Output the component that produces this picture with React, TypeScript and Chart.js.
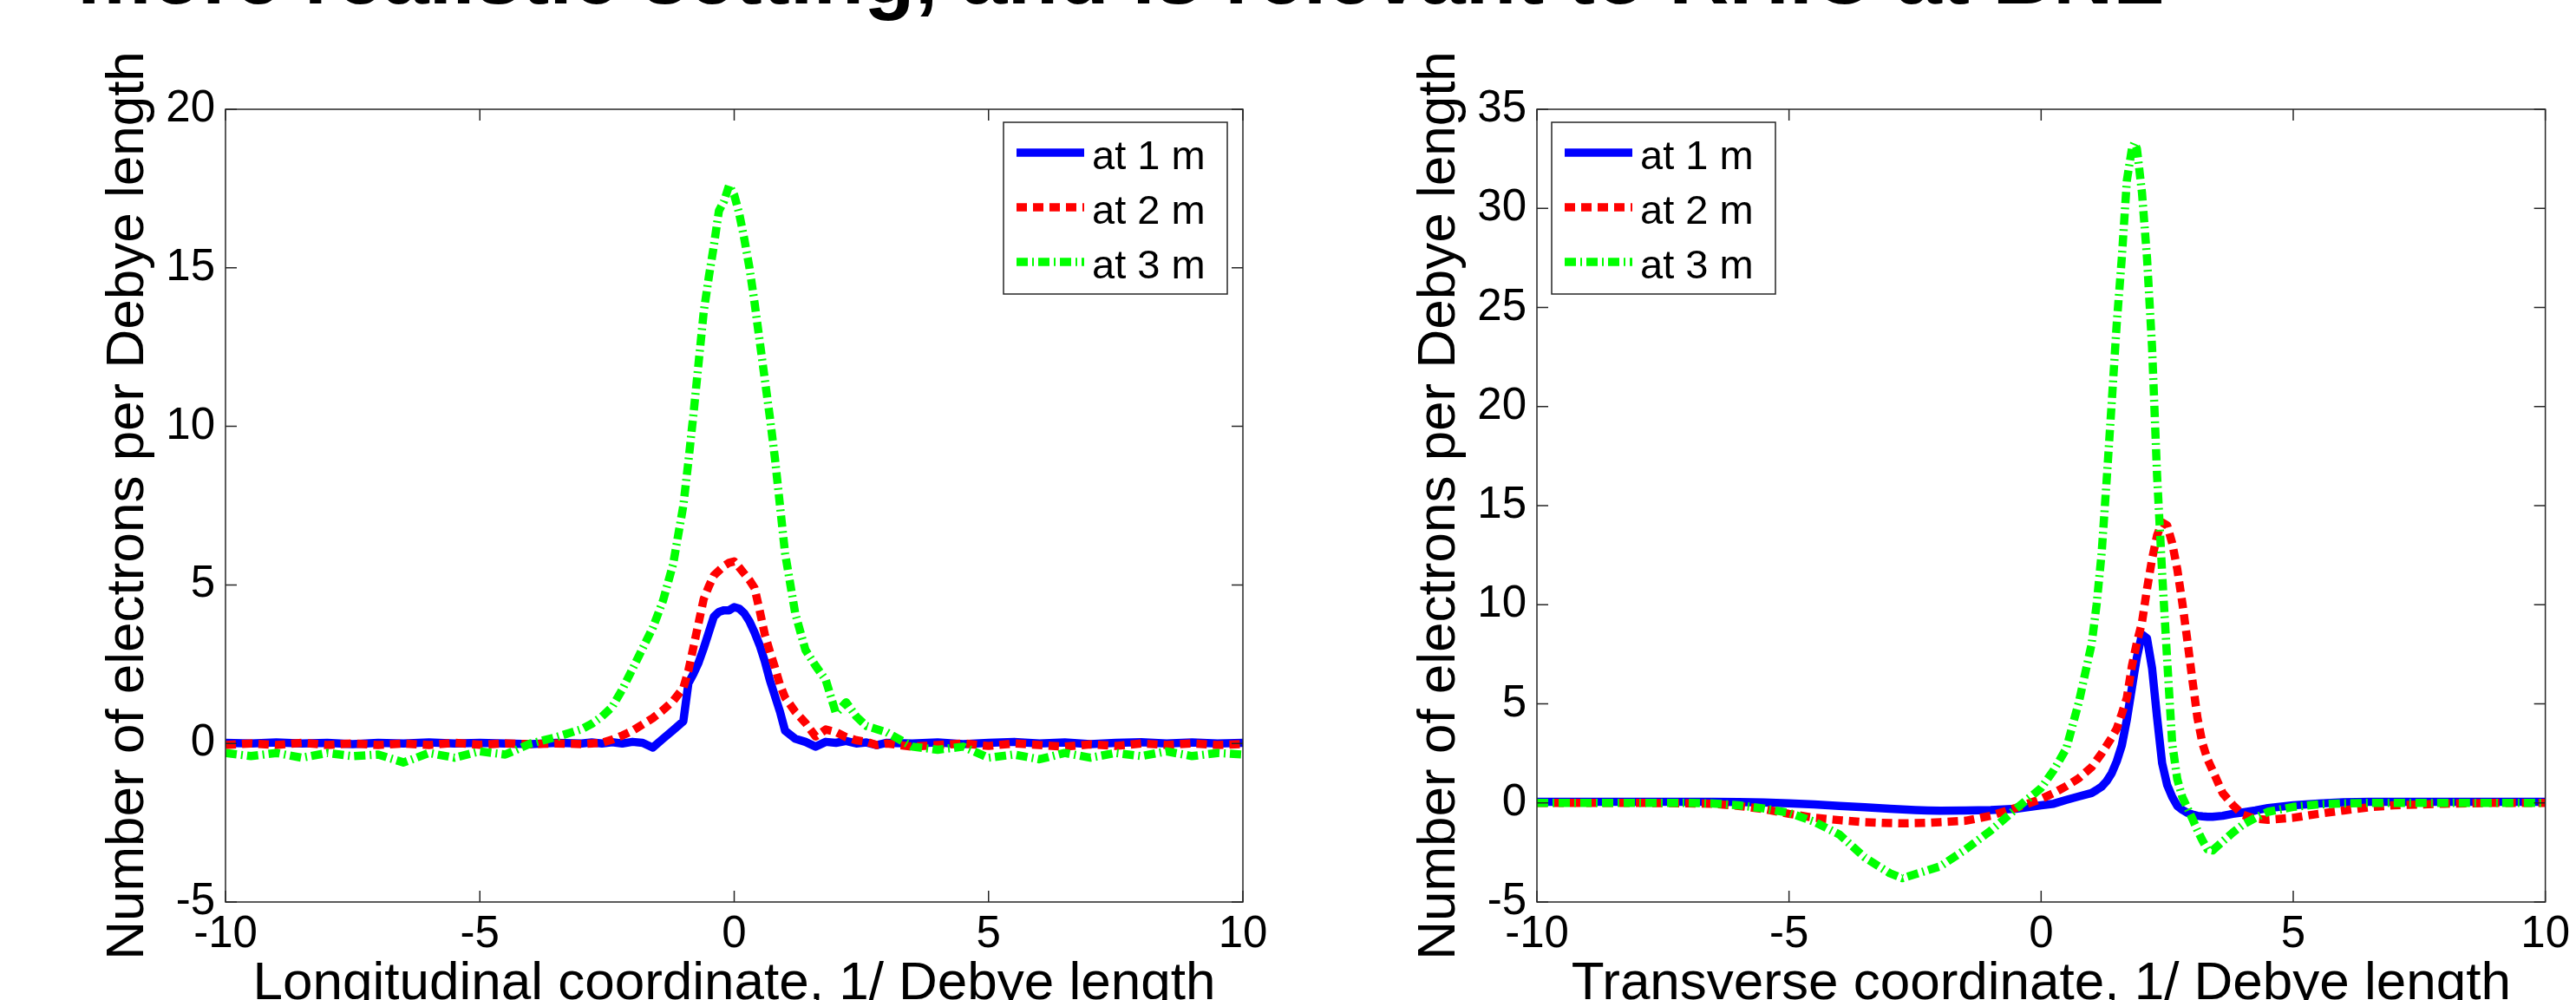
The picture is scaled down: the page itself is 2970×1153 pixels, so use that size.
import React, { useEffect, useRef } from "react";
import { Chart, registerables } from "chart.js";

Chart.register(...registerables);

// ---------------- data ----------------
const PAGE_TITLE = "more realistic setting, and is relevant to RHIC at BNL";
const SERIES_LABELS = ["at 1 m", "at 2 m", "at 3 m"];
const Y_TITLE = "Number of electrons per Debye length";
const LEFT_X_TITLE = "Longitudinal coordinate, 1/ Debye length";
const RIGHT_X_TITLE = "Transverse coordinate, 1/ Debye length";

const X_MIN = -10;
const X_MAX = 10;
const TICK_STEP = 5;
const LEFT_Y_MIN = -5;
const LEFT_Y_MAX = 20;
const RIGHT_Y_MIN = -5;
const RIGHT_Y_MAX = 35;

const LEFT_X = [
  -10, -9.5, -9, -8.5, -8, -7.5, -7, -6.5, -6, -5.5, -5, -4.5, -4, -3.5, -3,
  -2.8, -2.6, -2.4, -2.2, -2, -1.8, -1.6, -1.4, -1.2, -1,
  -0.9, -0.8, -0.7, -0.6, -0.5, -0.4, -0.3, -0.2, -0.1, 0, 0.1, 0.2, 0.3, 0.4, 0.5, 0.6, 0.7, 0.8, 0.9,
  1, 1.2, 1.4, 1.6, 1.8, 2, 2.2, 2.4, 2.6, 2.8, 3,
  3.5, 4, 4.5, 5, 5.5, 6, 6.5, 7, 7.5, 8, 8.5, 9, 9.5, 10,
];
const LEFT_1M = [
  0.02, 0.0, 0.03, 0.0, 0.02, -0.02, 0.02, 0.0, 0.03, 0.0, 0.02, 0.0, -0.02, 0.02, 0.0,
  0.03, 0.0, 0.04, 0.0, 0.05, 0.02, -0.13, 0.15, 0.42, 0.7,
  1.9, 2.2, 2.55, 3.0, 3.5, 4.0, 4.15, 4.2, 4.2, 4.3, 4.25, 4.1, 3.85, 3.5, 3.1, 2.6, 2.0, 1.5, 1.0,
  0.4, 0.15, 0.05, -0.1, 0.05, 0.02, 0.08, 0.0, 0.03, -0.05, 0.02,
  0.0, 0.03, -0.02, 0.02, 0.05, 0.0, 0.03, -0.02, 0.02, 0.04, 0.0, 0.03, 0.0, 0.02,
];
const LEFT_2M = [
  -0.05, 0.0, -0.05, 0.02, -0.05, 0.0, -0.05, 0.0, -0.05, 0.02, -0.04, 0.0, -0.02, 0.0, -0.02,
  0.0, 0.02, 0.12, 0.25, 0.4, 0.6, 0.8, 1.05, 1.34, 1.75,
  2.3, 3.05, 3.8, 4.55, 4.95, 5.3, 5.45, 5.6, 5.7, 5.74, 5.55, 5.35, 5.15, 4.9, 4.2, 3.45, 2.9, 2.4, 1.85,
  1.45, 1.0, 0.65, 0.22, 0.44, 0.36, 0.2, 0.1, 0.05, -0.05, 0.0,
  -0.1, -0.05, 0.0, -0.08, 0.0, -0.05, -0.1, -0.03, -0.08, 0.0, -0.05, 0.0, -0.05, -0.02,
];
const LEFT_3M = [
  -0.3, -0.4, -0.3, -0.45, -0.3, -0.4, -0.35, -0.6, -0.3, -0.45, -0.25, -0.35, 0.0, 0.2, 0.45,
  0.62, 0.85, 1.15, 1.7, 2.35, 3.0, 3.65, 4.5, 5.66, 7.5,
  8.9, 10.4, 12.0, 13.6, 14.7, 15.7, 16.8, 17.1, 17.6, 17.3, 16.7, 15.9, 15.0, 13.9, 12.7, 11.5, 10.3, 9.0, 7.5,
  6.0, 4.1, 2.95, 2.45, 2.0, 0.95, 1.3, 0.85, 0.55, 0.45, 0.35,
  -0.1, -0.2, -0.1, -0.45, -0.35, -0.5, -0.3, -0.45, -0.3, -0.4, -0.25, -0.4, -0.3, -0.35,
];

const RIGHT_X = [
  -10, -9, -8, -7, -6.5, -6, -5.5, -5, -4.5, -4,
  -3.5, -3, -2.75, -2.5, -2.25, -2,
  -1.5, -1, -0.5, 0,
  0.25, 0.5, 0.75, 1,
  1.1, 1.2, 1.3, 1.4, 1.5, 1.6, 1.7, 1.8,
  1.85, 1.9,
  2, 2.1, 2.2, 2.3, 2.4, 2.5, 2.6, 2.7, 2.8, 2.9, 3, 3.1, 3.2, 3.3, 3.4,
  3.6, 3.8, 4,
  4.25, 4.5, 5,
  5.5, 6, 6.5, 7,
  8, 9, 10,
];
const RIGHT_1M = [
  0.05, 0.05, 0.05, 0.05, 0.05, 0.04, 0.02, -0.02, -0.08, -0.15,
  -0.22, -0.3, -0.33, -0.36, -0.38, -0.39,
  -0.38, -0.36, -0.3, -0.12,
  -0.04, 0.15, 0.33, 0.5,
  0.65, 0.82, 1.1, 1.5, 2.1, 2.9, 4.2, 5.8,
  6.6, 7.35,
  8.5, 8.3, 6.8, 4.3, 2.0, 0.9, 0.3, -0.15, -0.35, -0.5, -0.58, -0.65, -0.68, -0.7, -0.7,
  -0.65, -0.55, -0.48,
  -0.38, -0.26, -0.12,
  -0.03, 0.03, 0.06, 0.06,
  0.06, 0.06, 0.06,
];
const RIGHT_2M = [
  0, 0, 0, -0.02, -0.05, -0.15, -0.31, -0.55, -0.75, -0.87,
  -0.97, -1.02, -1.03, -1.02, -1.0, -0.97,
  -0.9, -0.65, -0.25, 0.2,
  0.5, 0.85, 1.25, 1.8,
  2.15, 2.5, 2.9, 3.3, 3.75, 4.5, 5.3, 6.9,
  7.5, 8.1,
  9.1, 10.8, 12.3, 13.5, 14.15, 14.0, 13.1, 11.8, 10.1, 8.2, 6.2, 4.3, 3.0, 2.2, 1.65,
  0.5, -0.1, -0.6,
  -0.8, -0.85, -0.75,
  -0.55, -0.38, -0.22, -0.12,
  -0.04, 0, 0,
];
const RIGHT_3M = [
  0, 0, 0, 0, -0.03, -0.12, -0.28, -0.5, -0.95, -1.6,
  -2.75, -3.55, -3.8, -3.6, -3.4, -3.2,
  -2.35, -1.4, -0.3, 0.75,
  1.65, 2.75, 5.1, 8.0,
  10.0, 12.6, 16.3, 20.2, 24.2, 27.5, 31.4, 33.0,
  33.3, 33.0,
  30.8, 27.5, 23.0, 16.5, 11.6, 7.2, 3.0, 1.2, 0.3, -0.25, -0.8, -1.38, -1.9, -2.35, -2.4,
  -1.95, -1.5, -1.1,
  -0.75, -0.45, -0.2,
  -0.08, -0.03, 0, 0,
  0, 0, 0,
];

// ---------------- styles ----------------
const FONT = "'Liberation Sans', Arial, Helvetica, sans-serif";
const COLORS = ["#0000ff", "#ff0000", "#00ff00"];
const DASHES: number[][] = [[], [12, 7], [13, 5, 2, 5]];
const LINE_W = 9.5;
const AXIS_COLOR = "#262626";

function framePlugin(corner: "ne" | "nw") {
  return {
    id: "matlabFrame",
    afterDraw(chart: any) {
      const ctx: CanvasRenderingContext2D = chart.ctx;
      const a = chart.chartArea;
      const xs = chart.scales.x;
      const ys = chart.scales.y;
      ctx.save();
      ctx.strokeStyle = AXIS_COLOR;
      ctx.lineWidth = 1.5;
      ctx.setLineDash([]);
      ctx.strokeRect(a.left, a.top, a.right - a.left, a.bottom - a.top);
      const T = 13;
      ctx.beginPath();
      xs.ticks.forEach((t: any) => {
        const p = xs.getPixelForValue(t.value);
        ctx.moveTo(p, a.bottom);
        ctx.lineTo(p, a.bottom - T);
        ctx.moveTo(p, a.top);
        ctx.lineTo(p, a.top + T);
      });
      ys.ticks.forEach((t: any) => {
        const p = ys.getPixelForValue(t.value);
        ctx.moveTo(a.left, p);
        ctx.lineTo(a.left + T, p);
        ctx.moveTo(a.right, p);
        ctx.lineTo(a.right - T, p);
      });
      ctx.stroke();

      // legend box
      const W = 258;
      const H = 198;
      const bx = corner === "ne" ? a.right - 18 - W : a.left + 17;
      const by = a.top + 15;
      ctx.fillStyle = "#ffffff";
      ctx.fillRect(bx, by, W, H);
      ctx.strokeStyle = AXIS_COLOR;
      ctx.lineWidth = 1.5;
      ctx.strokeRect(bx, by, W, H);
      chart.data.datasets.forEach((ds: any, i: number) => {
        const ly = by + 35 + 63 * i;
        ctx.save();
        ctx.strokeStyle = ds.borderColor;
        ctx.lineWidth = ds.borderWidth;
        ctx.lineCap = "butt";
        ctx.setLineDash(ds.borderDash || []);
        ctx.beginPath();
        ctx.moveTo(bx + 15, ly);
        ctx.lineTo(bx + 93, ly);
        ctx.stroke();
        ctx.restore();
        ctx.fillStyle = "#000000";
        ctx.font = `47px ${FONT}`;
        ctx.textAlign = "left";
        ctx.textBaseline = "alphabetic";
        ctx.fillText(ds.label, bx + 102, by + 54 + 63 * i);
      });
      ctx.restore();
    },
  };
}

function buildConfig(
  xs: number[],
  series: number[][],
  yMin: number,
  yMax: number,
  xTitle: string,
  padLeft: number,
  padRight: number,
  corner: "ne" | "nw"
): any {
  const orders = [2, 1, 0];
  return {
    type: "line",
    data: {
      datasets: series.map((ys, i) => ({
        label: SERIES_LABELS[i],
        data: xs.map((x, k) => ({ x, y: ys[k] })),
        borderColor: COLORS[i],
        backgroundColor: COLORS[i],
        borderWidth: LINE_W,
        borderDash: DASHES[i],
        borderCapStyle: "butt",
        borderJoinStyle: "round",
        pointRadius: 0,
        tension: 0,
        fill: false,
        order: orders[i],
      })),
    },
    options: {
      animation: false,
      responsive: true,
      maintainAspectRatio: false,
      layout: { padding: { left: padLeft, top: 126, right: padRight, bottom: 0 } },
      plugins: { legend: { display: false }, tooltip: { enabled: false }, title: { display: false } },
      scales: {
        x: {
          type: "linear",
          min: X_MIN,
          max: X_MAX,
          ticks: {
            stepSize: TICK_STEP,
            padding: 7,
            color: "#000",
            autoSkip: false,
            maxRotation: 0,
            font: { size: 51, family: FONT },
          },
          grid: { display: false, drawTicks: false },
          border: { display: false },
          title: {
            display: true,
            text: xTitle,
            color: "#000",
            font: { size: 62, family: FONT },
            padding: { top: 4, bottom: 28 },
          },
          afterFit: (s: any) => {
            s.height = 160;
          },
        },
        y: {
          type: "linear",
          min: yMin,
          max: yMax,
          ticks: {
            stepSize: TICK_STEP,
            padding: 12,
            color: "#000",
            font: { size: 51, family: FONT },
          },
          grid: { display: false, drawTicks: false },
          border: { display: false },
          title: {
            display: true,
            text: Y_TITLE,
            color: "#000",
            font: { size: 62, family: FONT },
            padding: { top: 4, bottom: 4 },
          },
          afterFit: (s: any) => {
            s.width = 153;
          },
        },
      },
    },
    plugins: [framePlugin(corner)],
  };
}

function Panel(props: { left: number; width: number; make: () => any }) {
  const ref = useRef<HTMLCanvasElement>(null);
  useEffect(() => {
    const chart = new Chart(ref.current as HTMLCanvasElement, props.make());
    return () => chart.destroy();
  }, []);
  return (
    <div style={{ position: "absolute", left: props.left, top: 0, width: props.width, height: 1200 }}>
      <canvas ref={ref} />
    </div>
  );
}

export default function App() {
  return (
    <div
      style={{
        position: "fixed",
        left: 0,
        top: 0,
        width: 2970,
        height: 1153,
        overflow: "hidden",
        background: "#ffffff",
      }}
    >
      <div
        style={{
          position: "absolute",
          left: 89,
          top: -77,
          fontFamily: FONT,
          fontWeight: "bold",
          fontSize: 96,
          lineHeight: "96px",
          whiteSpace: "nowrap",
          color: "#000",
        }}
      >
        {PAGE_TITLE}
      </div>
      <Panel
        left={0}
        width={1500}
        make={() =>
          buildConfig(LEFT_X, [LEFT_1M, LEFT_2M, LEFT_3M], LEFT_Y_MIN, LEFT_Y_MAX, LEFT_X_TITLE, 107, 67, "ne")
        }
      />
      <Panel
        left={1500}
        width={1470}
        make={() =>
          buildConfig(RIGHT_X, [RIGHT_1M, RIGHT_2M, RIGHT_3M], RIGHT_Y_MIN, RIGHT_Y_MAX, RIGHT_X_TITLE, 119, 25.5, "nw")
        }
      />
    </div>
  );
}
